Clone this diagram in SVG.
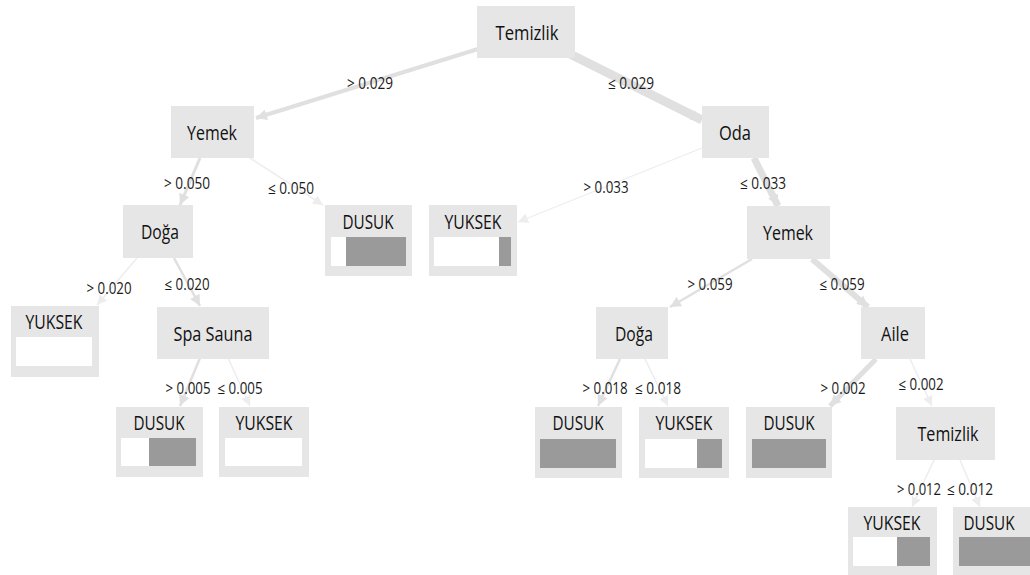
<svg xmlns="http://www.w3.org/2000/svg" width="1030" height="575" viewBox="0 0 1030 575">
<style>
.n{fill:#e6e6e6}
.bar{fill:#ffffff}
.g{fill:#9a9a9a}
.t{font-family:"Open Sans","Noto Sans","Liberation Sans",sans-serif;font-size:19.5px;fill:#111;text-anchor:middle;dominant-baseline:central}
.l{font-family:"Open Sans","Noto Sans","Liberation Sans",sans-serif;font-size:15.5px;fill:#1a1a1a;text-anchor:middle;dominant-baseline:central}
.e{stroke:#e0e0e0;fill:none;stroke-linecap:butt}
.f{stroke:#ededed}
</style>
<defs>
<marker id="ah" viewBox="0 0 10 10" refX="10" refY="5" markerWidth="11" markerHeight="11" markerUnits="userSpaceOnUse" orient="auto">
<path d="M0,0 L10,5 L0,10 z" fill="#e0e0e0"/>
</marker>
<marker id="ahf" viewBox="0 0 10 10" refX="10" refY="5" markerWidth="10" markerHeight="10" markerUnits="userSpaceOnUse" orient="auto">
<path d="M0,0 L10,5 L0,10 z" fill="#ededed"/>
</marker>
</defs>
<rect width="1030" height="575" fill="#ffffff"/>
<g id="connectors">
<line class="e" x1="478" y1="49" x2="256" y2="118" stroke-width="4" marker-end="url(#ah)"/>
<line class="e" x1="568" y1="53" x2="702" y2="120" stroke-width="9" marker-end="url(#ah)"/>
<line class="e" x1="200" y1="158" x2="180" y2="205" stroke-width="3" marker-end="url(#ah)"/>
<line class="e f" x1="250" y1="158" x2="323" y2="205" stroke-width="1.5" marker-end="url(#ahf)"/>
<line class="e f" x1="137" y1="258" x2="97" y2="305" stroke-width="1.5" marker-end="url(#ahf)"/>
<line class="e" x1="174" y1="258" x2="200" y2="306" stroke-width="2.5" marker-end="url(#ah)"/>
<line class="e" x1="200" y1="358" x2="180" y2="406" stroke-width="2.5" marker-end="url(#ah)"/>
<line class="e f" x1="228" y1="358" x2="250" y2="406" stroke-width="1.5" marker-end="url(#ahf)"/>
<line class="e f" x1="702" y1="148" x2="518" y2="222" stroke-width="1.2" marker-end="url(#ahf)"/>
<line class="e" x1="754" y1="158" x2="778" y2="206" stroke-width="7" marker-end="url(#ah)"/>
<line class="e" x1="752" y1="259" x2="670" y2="307" stroke-width="2.5" marker-end="url(#ah)"/>
<line class="e" x1="812" y1="259" x2="868" y2="307" stroke-width="6" marker-end="url(#ah)"/>
<line class="e" x1="620" y1="359" x2="598" y2="406" stroke-width="2.5" marker-end="url(#ah)"/>
<line class="e f" x1="645" y1="359" x2="668" y2="406" stroke-width="1.5" marker-end="url(#ahf)"/>
<line class="e" x1="876" y1="359" x2="830" y2="406" stroke-width="5" marker-end="url(#ah)"/>
<line class="e f" x1="910" y1="359" x2="932" y2="406" stroke-width="1.5" marker-end="url(#ahf)"/>
<line class="e f" x1="934" y1="460" x2="912" y2="507" stroke-width="1.5" marker-end="url(#ahf)"/>
<line class="e f" x1="960" y1="460" x2="980" y2="507" stroke-width="1.5" marker-end="url(#ahf)"/>
<text class="l" x="370" y="83" textLength="46" lengthAdjust="spacingAndGlyphs">&gt; 0.029</text>
<text class="l" x="631" y="83" textLength="46" lengthAdjust="spacingAndGlyphs">≤ 0.029</text>
<text class="l" x="187" y="183" textLength="46" lengthAdjust="spacingAndGlyphs">&gt; 0.050</text>
<text class="l" x="291" y="188" textLength="46" lengthAdjust="spacingAndGlyphs">≤ 0.050</text>
<text class="l" x="606" y="187" textLength="45" lengthAdjust="spacingAndGlyphs">&gt; 0.033</text>
<text class="l" x="763" y="183" textLength="46" lengthAdjust="spacingAndGlyphs">≤ 0.033</text>
<text class="l" x="109" y="288" textLength="45" lengthAdjust="spacingAndGlyphs">&gt; 0.020</text>
<text class="l" x="187" y="284" textLength="45" lengthAdjust="spacingAndGlyphs">≤ 0.020</text>
<text class="l" x="710" y="284" textLength="45" lengthAdjust="spacingAndGlyphs">&gt; 0.059</text>
<text class="l" x="842" y="284" textLength="45" lengthAdjust="spacingAndGlyphs">≤ 0.059</text>
<text class="l" x="188" y="388" textLength="45" lengthAdjust="spacingAndGlyphs">&gt; 0.005</text>
<text class="l" x="240" y="388" textLength="45" lengthAdjust="spacingAndGlyphs">≤ 0.005</text>
<text class="l" x="605" y="388" textLength="45" lengthAdjust="spacingAndGlyphs">&gt; 0.018</text>
<text class="l" x="658" y="388" textLength="46" lengthAdjust="spacingAndGlyphs">≤ 0.018</text>
<text class="l" x="843" y="388" textLength="45" lengthAdjust="spacingAndGlyphs">&gt; 0.002</text>
<text class="l" x="921" y="384" textLength="45" lengthAdjust="spacingAndGlyphs">≤ 0.002</text>
<text class="l" x="919" y="489" textLength="44" lengthAdjust="spacingAndGlyphs">&gt; 0.012</text>
<text class="l" x="970" y="489" textLength="46" lengthAdjust="spacingAndGlyphs">≤ 0.012</text>
</g>
<g id="n-temizlik-root"><rect class="n" x="477" y="6" width="98" height="52"/><text class="t" x="527" y="32" textLength="63" lengthAdjust="spacingAndGlyphs">Temizlik</text></g>
<g id="n-yemek-l"><rect class="n" x="171" y="106" width="83" height="52"/><text class="t" x="212" y="132" textLength="50" lengthAdjust="spacingAndGlyphs">Yemek</text></g>
<g id="n-oda"><rect class="n" x="702" y="106" width="67" height="52"/><text class="t" x="735" y="132" textLength="32" lengthAdjust="spacingAndGlyphs">Oda</text></g>
<g id="n-doga-l"><rect class="n" x="123" y="205" width="70" height="53"/><text class="t" x="160" y="231" textLength="38" lengthAdjust="spacingAndGlyphs">Doğa</text></g>
<g id="n-dusuk-1"><rect class="n" x="325" y="205" width="87" height="71"/><text class="t" x="368" y="221" textLength="51" lengthAdjust="spacingAndGlyphs">DUSUK</text><rect class="bar" x="331" y="237" width="75" height="29"/><rect class="g" x="346" y="237" width="60" height="29"/></g>
<g id="n-yuksek-1"><rect class="n" x="429" y="205" width="88" height="71"/><text class="t" x="473" y="221" textLength="57" lengthAdjust="spacingAndGlyphs">YUKSEK</text><rect class="bar" x="434" y="237" width="77" height="29"/><rect class="g" x="499" y="237" width="12" height="29"/></g>
<g id="n-yuksek-2"><rect class="n" x="11" y="306" width="88" height="71"/><text class="t" x="54" y="321" textLength="57" lengthAdjust="spacingAndGlyphs">YUKSEK</text><rect class="bar" x="16" y="337" width="76" height="29"/></g>
<g id="n-spa"><rect class="n" x="157" y="307" width="112" height="52"/><text class="t" x="213" y="333" textLength="79" lengthAdjust="spacingAndGlyphs">Spa Sauna</text></g>
<g id="n-dusuk-2"><rect class="n" x="116" y="407" width="87" height="70"/><text class="t" x="159" y="422" textLength="51" lengthAdjust="spacingAndGlyphs">DUSUK</text><rect class="bar" x="121" y="438" width="75" height="28"/><rect class="g" x="149" y="438" width="47" height="28"/></g>
<g id="n-yuksek-3"><rect class="n" x="219" y="407" width="90" height="70"/><text class="t" x="264" y="422" textLength="57" lengthAdjust="spacingAndGlyphs">YUKSEK</text><rect class="bar" x="225" y="438" width="77" height="28"/></g>
<g id="n-yemek-r"><rect class="n" x="747" y="206" width="83" height="53"/><text class="t" x="788" y="232" textLength="50" lengthAdjust="spacingAndGlyphs">Yemek</text></g>
<g id="n-doga-r"><rect class="n" x="596" y="307" width="72" height="52"/><text class="t" x="634" y="333" textLength="38" lengthAdjust="spacingAndGlyphs">Doğa</text></g>
<g id="n-aile"><rect class="n" x="861" y="307" width="64" height="52"/><text class="t" x="895" y="333" textLength="28" lengthAdjust="spacingAndGlyphs">Aile</text></g>
<g id="n-dusuk-3"><rect class="n" x="535" y="407" width="87" height="71"/><text class="t" x="578" y="422" textLength="51" lengthAdjust="spacingAndGlyphs">DUSUK</text><rect class="bar" x="540" y="439" width="76" height="29"/><rect class="g" x="540" y="439" width="76" height="29"/></g>
<g id="n-yuksek-4"><rect class="n" x="639" y="407" width="90" height="71"/><text class="t" x="684" y="422" textLength="57" lengthAdjust="spacingAndGlyphs">YUKSEK</text><rect class="bar" x="645" y="439" width="77" height="29"/><rect class="g" x="697" y="439" width="25" height="29"/></g>
<g id="n-dusuk-4"><rect class="n" x="746" y="407" width="86" height="71"/><text class="t" x="789" y="422" textLength="51" lengthAdjust="spacingAndGlyphs">DUSUK</text><rect class="bar" x="752" y="439" width="74" height="29"/><rect class="g" x="752" y="439" width="74" height="29"/></g>
<g id="n-temizlik-2"><rect class="n" x="896" y="407" width="99" height="53"/><text class="t" x="948" y="433" textLength="61" lengthAdjust="spacingAndGlyphs">Temizlik</text></g>
<g id="n-yuksek-5"><rect class="n" x="848" y="507" width="89" height="71"/><text class="t" x="892" y="522" textLength="57" lengthAdjust="spacingAndGlyphs">YUKSEK</text><rect class="bar" x="853" y="537" width="77" height="29"/><rect class="g" x="897" y="537" width="33" height="29"/></g>
<g id="n-dusuk-5"><rect class="n" x="953" y="507" width="77" height="68"/><text class="t" x="989" y="522" textLength="51" lengthAdjust="spacingAndGlyphs">DUSUK</text><rect class="bar" x="959" y="537" width="71" height="29"/><rect class="g" x="959" y="537" width="71" height="29"/></g>
</svg>
